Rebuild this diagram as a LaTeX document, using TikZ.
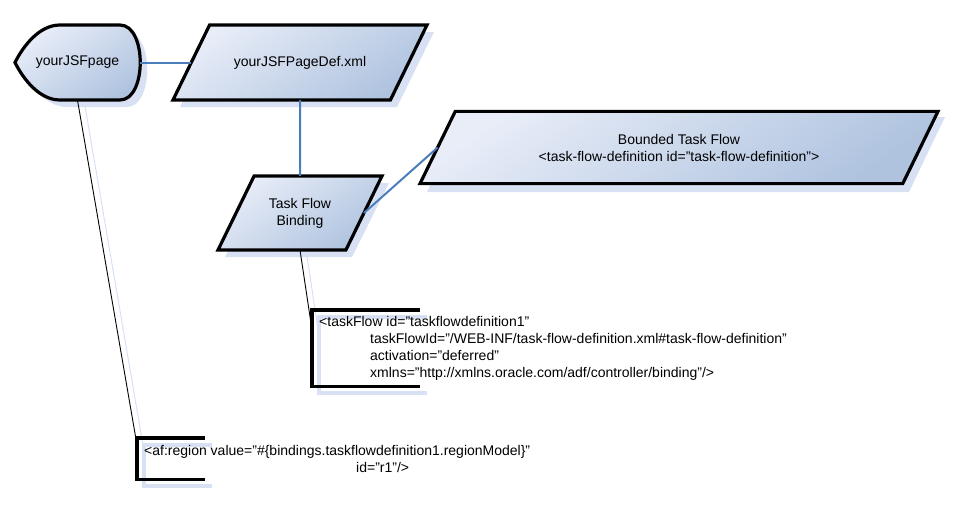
\documentclass[tikz,border=0pt]{standalone}
\usepackage{fontspec}
\setmainfont{Liberation Sans}
\usetikzlibrary{shapes.geometric,calc,backgrounds}
\definecolor{shapelight}{HTML}{E8EDF8}
\definecolor{shapedark}{HTML}{AFC3DF}
\definecolor{shadowblue}{HTML}{D8E1F4}
\definecolor{linkblue}{HTML}{4A7EBB}
\tikzset{
  shapefill/.style={top color=shapelight, bottom color=shapedark, shading angle=35},
  docshape/.style={trapezium, trapezium stretches body, trapezium left angle=64,
    trapezium right angle=116, draw=black, line width=3.2pt, outer sep=0pt,
    shapefill, align=center, inner xsep=0pt},
  link/.style={linkblue, line width=2pt},
  leader/.style={black, line width=0.9pt},
  leadershadow/.style={draw=shadowblue, line width=1pt},
  bracketline/.style={black, line width=3.5pt},
  bracketshadow/.style={draw=shadowblue, line width=3.5pt}
}
\begin{document}
\begin{tikzpicture}[x=1pt, y=-1pt, font=\fontsize{14}{17}\selectfont,
    xmltext/.style={anchor=north west, inner xsep=7pt, inner ysep=0pt, align=left}]
    \useasboundingbox (0,0) rectangle (956,506);
    % Shadows first
    \fill[shadowblue] (67,32) -- (127,32) .. controls (154,32) and (154,107) .. (127,107)
        -- (67,107) .. controls (46,107) and (30,85.5) .. (22,69.5) .. controls (30,53.5) and (46,32) .. cycle;
    \fill[shadowblue] (219,32) -- (434,32) -- (397,107) -- (180,107) -- cycle;
    \fill[shadowblue] (262,183) -- (389,183) -- (352,257) -- (225,257) -- cycle;
    \fill[shadowblue] (462,117) -- (945,117) -- (909,192) -- (427,192) -- cycle;
    \draw[leadershadow] (85,106) -- (144,451);
    \draw[leadershadow] (307,256) -- (319,336);
    \draw[bracketshadow] (427,317) -- (319,317) -- (319,393) -- (427,393);
    \draw[bracketshadow] (212,445) -- (144,445) -- (144,486) -- (212,486);
    % Display shape
    \draw[line width=3.2pt, shapefill] (60,25) -- (120,25) .. controls (147,25) and (147,100) .. (120,100)
        -- (60,100) .. controls (39,100) and (23,78.5) .. (15,62.5) .. controls (23,46.5) and (39,25) .. cycle;
    \node[minimum width=125pt, minimum height=75pt, inner sep=0pt] (jsfpage) at (77.5,62.5) {yourJSFpage};
    % Page definition, binding and task flow
    \node[docshape, text height=10pt, text depth=3pt, inner ysep=31pt, minimum width=254pt] (pagedef) at (300,62.5) {yourJSFPageDef.xml};
    \node[docshape, inner ysep=22pt, minimum width=164pt] (taskflow) at (300,213) {Task Flow\\Binding};
    \node[docshape, inner ysep=22.5pt, minimum width=518pt] (bounded) at (679,147.5)
        {Bounded Task Flow\\<task-flow-definition id="task-flow-definition">};
    % XML snippets
    \node[xmltext, minimum height=76pt] (tfxml) at (312,310)
        {<taskFlow id="taskflowdefinition1"\\
         \hspace*{51pt}taskFlowId="/WEB-INF/task-flow-definition.xml\#task-flow-definition"\\
         \hspace*{51pt}activation="deferred"\\
         \hspace*{51pt}xmlns="http://xmlns.oracle.com/adf/controller/binding"/>};
    \node[xmltext, minimum height=41pt] (regionxml) at (137,438)
        {<af:region value="\#\{bindings.taskflowdefinition1.regionModel\}"\\
         \hspace*{212pt}id="r1"/>};
    \coordinate (tfhook) at ($(tfxml.north west)+(0,20)$);
    \coordinate (reghook) at ($(regionxml.north west)+(0,7)$);
    % Links
    \draw[link] (jsfpage.east) -- (pagedef.left side);
    \draw[link] (pagedef.south) -- (taskflow.north);
    \draw[link] (taskflow.right side) -- (bounded.left side);
    % Leaders and brackets
    \draw[leader] (jsfpage.south) -- (reghook);
    \draw[leader] (taskflow.south) -- (tfhook);
    \draw[bracketline] ($(tfxml.north west)+(108,0)$) -- (tfxml.north west) -- (tfxml.south west) -- ++(108,0);
    \draw[bracketline] ($(regionxml.north west)+(68,0)$) -- (regionxml.north west) -- (regionxml.south west) -- ++(68,0);
\end{tikzpicture}
\end{document}
